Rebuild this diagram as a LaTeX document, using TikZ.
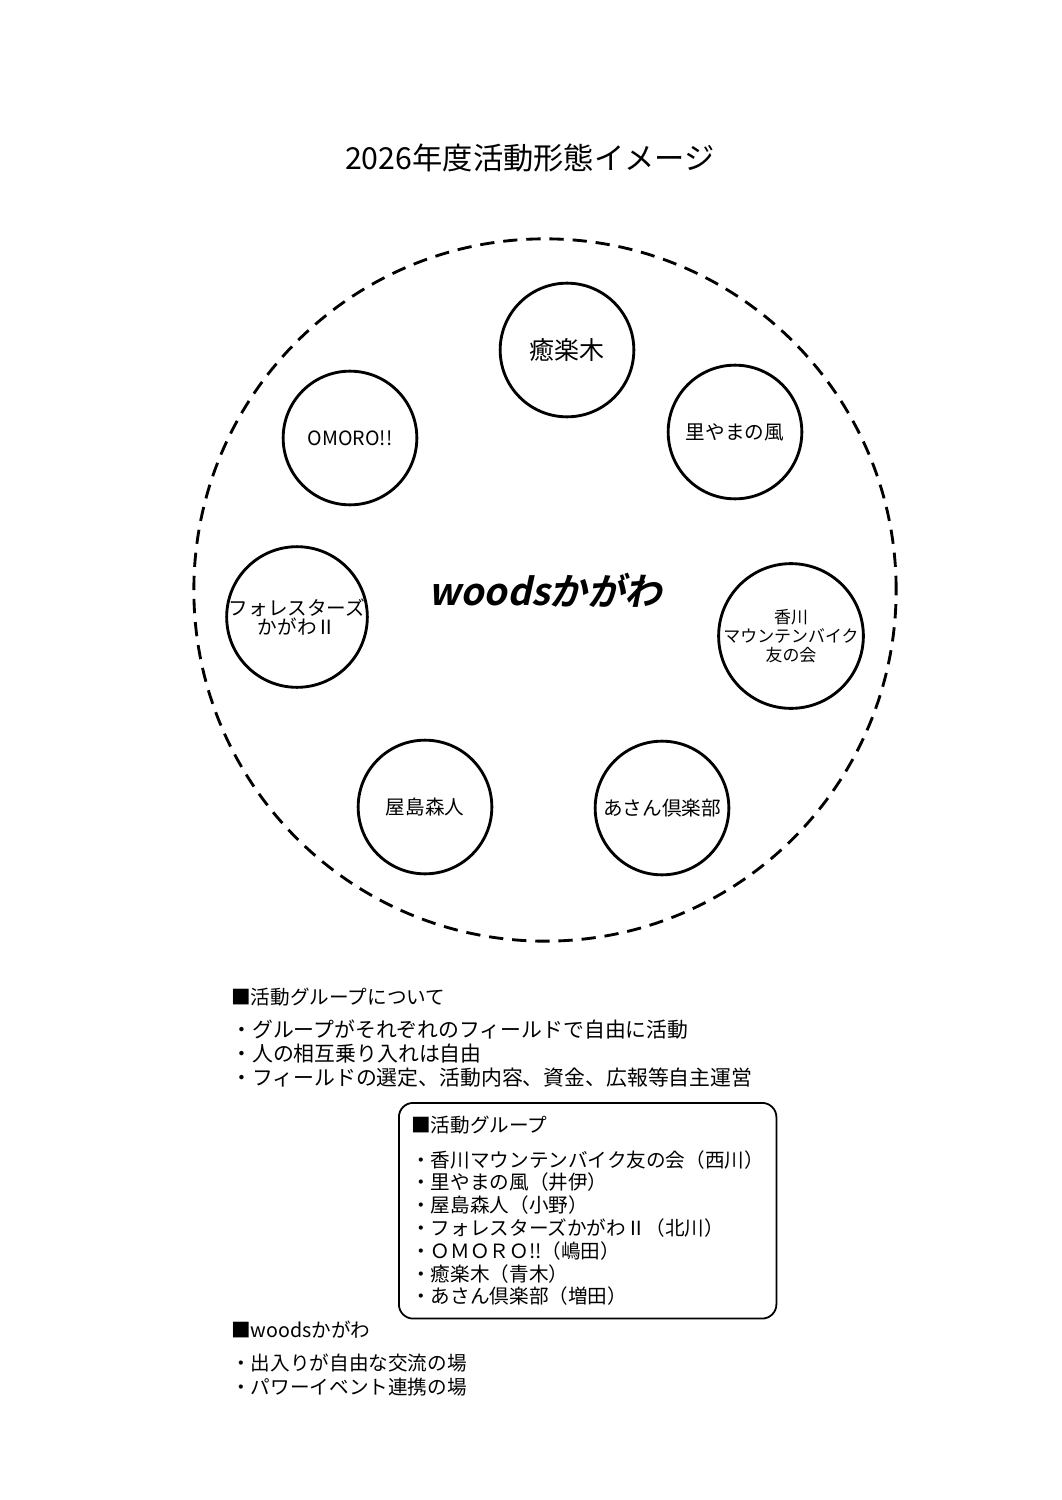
\documentclass[tikz,border=0pt]{standalone}
\usepackage{fontspec}
\setmainfont{Noto Sans CJK JP}
\newfontfamily\logofont[FakeSlant=0.22,BoldFont={Noto Sans CJK JP Bold},BoldFeatures={FakeSlant=0.22}]{Noto Sans CJK JP}
\usetikzlibrary{positioning}
\tikzset{
  title-text/.style={inner sep=0pt,font=\fontsize{17}{20}\selectfont},
  group-circle/.style={draw,line width=1.6pt,circle,minimum size=75pt,
    inner sep=0pt,align=center,font=\fontsize{11}{10.7}\selectfont},
  outer-ring/.style={draw,line width=1.6pt,dash pattern=on 8pt off 5pt,
    circle,minimum size=394pt,inner sep=0pt,
    font=\logofont\bfseries\fontsize{21}{26}\selectfont},
  list-text/.style={anchor=north west,inner sep=0pt,align=left,
    font=\fontsize{11}{13.3}\selectfont},
  list-frame/.style={draw,line width=1pt,rounded corners=8pt,
    anchor=north west,align=left,inner xsep=7pt,inner ysep=0pt,
    minimum width=209pt,minimum height=121pt,
    font=\fontsize{11}{12.8}\selectfont},
}
\begin{document}
\begin{tikzpicture}[x=0.561pt,y=-0.561pt]
  \useasboundingbox (0,0) rectangle (1061,1500);
  \node[title-text] (title) at (530,158) {2026年度活動形態イメージ};
  % 外側の点線の輪
  \node[outer-ring] (woods) at (545,590) {woodsかがわ};
  % 各グループ
  \node[group-circle,font=\fontsize{14}{16}\selectfont] (yuraku) at (567,350) {癒楽木};
  \node[group-circle] (satoyama) at (735,432) {里やまの風};
  \node[group-circle] (omoro) at (350,438) {OMORO!!};
  \node[group-circle] (forest) at (297,617) {フォレスターズ\\かがわⅡ};
  \node[group-circle,font=\fontsize{9.5}{10.6}\selectfont] (mtb) at (791,636)
    {香川\\マウンテンバイク\\友の会};
  \node[group-circle] (yashima) at (425,807) {屋島森人};
  \node[group-circle] (asan) at (662,808) {あさん倶楽部};
  % 説明文
  \node[list-text,font=\fontsize{11.7}{13.5}\selectfont] (about) at (231,988)
    {{\fontsize{11}{13}\selectfont ■活動グループについて}\\[5pt]
    ・グループがそれぞれのフィールドで自由に活動\\
    ・人の相互乗り入れは自由\\
    ・フィールドの選定、活動内容、資金、広報等自主運営};
  \node[list-frame] (members) at (398,1102) {■活動グループ\\[6.8pt]
    ・香川マウンテンバイク友の会（西川）\\
    ・里やまの風（井伊）\\
    ・屋島森人（小野）\\
    ・フォレスターズかがわⅡ（北川）\\
    ・ＯＭＯＲＯ!!（嶋田）\\
    ・癒楽木（青木）\\
    ・あさん倶楽部（増田）};
  \node[list-text] (place) at (231,1321) {■woodsかがわ\\[5pt]
    ・出入りが自由な交流の場\\
    ・パワーイベント連携の場};
\end{tikzpicture}
\end{document}
